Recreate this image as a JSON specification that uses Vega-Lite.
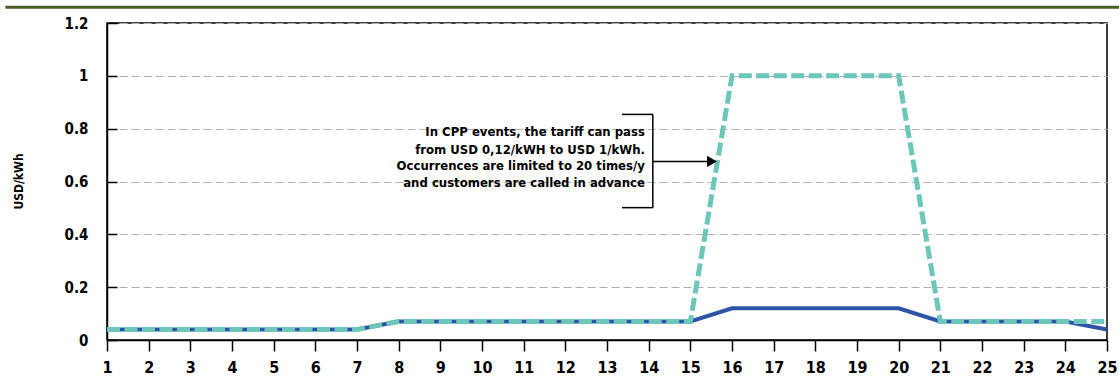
{
  "$schema": "https://vega.github.io/schema/vega-lite/v6.json",
  "autosize": "none",
  "width": 1000,
  "height": 317,
  "padding": {"left": 107, "top": 23, "right": 12, "bottom": 36},
  "background": "white",
  "config": {
    "view": {"stroke": "black", "strokeWidth": 1.5},
    "font": "DejaVu Sans Condensed",
    "axis": {"labelFont": "DejaVu Sans Condensed", "titleFont": "DejaVu Sans Condensed", "labelFontWeight": "bold", "titleFontWeight": "bold", "labelColor": "black", "titleColor": "black", "domainColor": "black", "tickColor": "black"}
  },
  "datasets": {
    "tariff": [
      {"hour": 1, "standard": 0.04, "cpp": 0.04},
      {"hour": 2, "standard": 0.04, "cpp": 0.04},
      {"hour": 3, "standard": 0.04, "cpp": 0.04},
      {"hour": 4, "standard": 0.04, "cpp": 0.04},
      {"hour": 5, "standard": 0.04, "cpp": 0.04},
      {"hour": 6, "standard": 0.04, "cpp": 0.04},
      {"hour": 7, "standard": 0.04, "cpp": 0.04},
      {"hour": 8, "standard": 0.07, "cpp": 0.07},
      {"hour": 9, "standard": 0.07, "cpp": 0.07},
      {"hour": 10, "standard": 0.07, "cpp": 0.07},
      {"hour": 11, "standard": 0.07, "cpp": 0.07},
      {"hour": 12, "standard": 0.07, "cpp": 0.07},
      {"hour": 13, "standard": 0.07, "cpp": 0.07},
      {"hour": 14, "standard": 0.07, "cpp": 0.07},
      {"hour": 15, "standard": 0.07, "cpp": 0.07},
      {"hour": 16, "standard": 0.12, "cpp": 1.0},
      {"hour": 17, "standard": 0.12, "cpp": 1.0},
      {"hour": 18, "standard": 0.12, "cpp": 1.0},
      {"hour": 19, "standard": 0.12, "cpp": 1.0},
      {"hour": 20, "standard": 0.12, "cpp": 1.0},
      {"hour": 21, "standard": 0.07, "cpp": 0.07},
      {"hour": 22, "standard": 0.07, "cpp": 0.07},
      {"hour": 23, "standard": 0.07, "cpp": 0.07},
      {"hour": 24, "standard": 0.07, "cpp": 0.07},
      {"hour": 25, "standard": 0.04, "cpp": 0.07}
    ],
    "bracket": [
      {"x": 14.1, "x2": 14.1, "y": 0.854, "y2": 0.501},
      {"x": 13.36, "x2": 14.1, "y": 0.854, "y2": 0.854},
      {"x": 13.36, "x2": 14.1, "y": 0.501, "y2": 0.501},
      {"x": 14.1, "x2": 15.4, "y": 0.676, "y2": 0.676}
    ],
    "note": [
      {"x": 13.91, "y": 0.786, "label": "In CPP events, the tariff can pass"},
      {"x": 13.91, "y": 0.721, "label": "from USD 0,12/kWH to USD 1/kWh."},
      {"x": 13.91, "y": 0.657, "label": "Occurrences are limited to 20 times/y"},
      {"x": 13.91, "y": 0.596, "label": "and customers are called in advance"}
    ],
    "arrow": [{"x": 15.52, "y": 0.676}]
  },
  "layer": [
    {
      "data": {"name": "tariff"},
      "mark": {"type": "line", "color": "#2c55a8", "strokeWidth": 4},
      "encoding": {
        "x": {"field": "hour", "type": "quantitative", "scale": {"domain": [1, 25], "nice": false, "zero": false},
          "axis": {"values": [1,2,3,4,5,6,7,8,9,10,11,12,13,14,15,16,17,18,19,20,21,22,23,24,25], "title": null, "grid": false, "tickSize": 11, "tickWidth": 1.5, "domainWidth": 1.5, "labelFontSize": 16, "labelPadding": 8, "labelFlush": false, "labelOverlap": false}},
        "y": {"field": "standard", "type": "quantitative", "scale": {"domain": [0, 1.2], "nice": false},
          "axis": {"values": [0, 0.2, 0.4, 0.6, 0.8, 1, 1.2], "format": "~g", "title": "USD/kWh", "titleFontSize": 12, "titleX": -89, "titleY": 158, "titleAngle": -90, "titleAlign": "center", "titleBaseline": "middle", "grid": true, "gridColor": "#b0b0b0", "gridDash": [8, 4], "gridWidth": 1, "tickSize": -10, "tickWidth": 1.5, "domainWidth": 1.5, "labelFontSize": 15, "labelPadding": 29}}
      }
    },
    {
      "data": {"name": "tariff"},
      "mark": {"type": "line", "color": "#6cc6b9", "strokeWidth": 5, "strokeDash": [13, 4.5]},
      "encoding": {
        "x": {"field": "hour", "type": "quantitative"},
        "y": {"field": "cpp", "type": "quantitative"}
      }
    },
    {
      "data": {"name": "bracket"},
      "mark": {"type": "rule", "color": "black", "strokeWidth": 1.5},
      "encoding": {
        "x": {"field": "x", "type": "quantitative"},
        "x2": {"field": "x2"},
        "y": {"field": "y", "type": "quantitative"},
        "y2": {"field": "y2"}
      }
    },
    {
      "data": {"name": "arrow"},
      "mark": {"type": "point", "shape": "triangle-right", "filled": true, "color": "black", "size": 130, "opacity": 1},
      "encoding": {
        "x": {"field": "x", "type": "quantitative"},
        "y": {"field": "y", "type": "quantitative"}
      }
    },
    {
      "data": {"name": "note"},
      "mark": {"type": "text", "align": "right", "baseline": "middle", "fontSize": 13, "fontWeight": "bold", "font": "DejaVu Sans Condensed", "color": "black"},
      "encoding": {
        "x": {"field": "x", "type": "quantitative"},
        "y": {"field": "y", "type": "quantitative"},
        "text": {"field": "label"}
      }
    },
    {
      "data": {"values": [{}]},
      "mark": {"type": "rule", "color": "#4a5e28", "strokeWidth": 3},
      "encoding": {
        "x": {"datum": -1.44},
        "x2": {"datum": 25.29},
        "y": {"datum": 1.26}
      }
    }
  ]
}
